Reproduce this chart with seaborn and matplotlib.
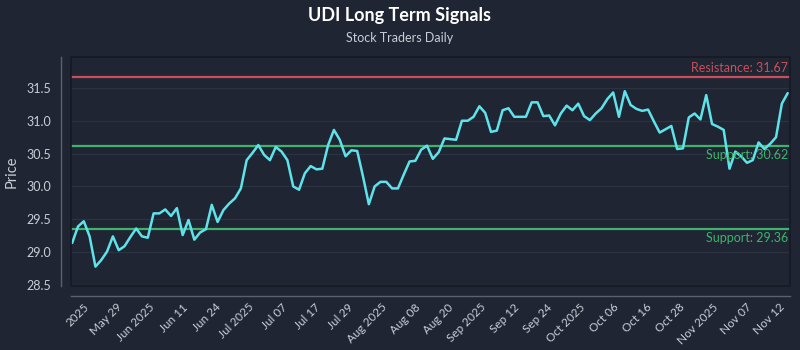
import numpy as np
import pandas as pd
import matplotlib
matplotlib.use("Agg")
import matplotlib.pyplot as plt
from matplotlib.patches import Rectangle
import seaborn as sns

# ---- data ----
prices = [
    29.14, 29.39, 29.47, 29.24, 28.78, 28.88, 29.01, 29.24, 29.03, 29.09,
    29.23, 29.36, 29.24, 29.22, 29.59, 29.59, 29.65, 29.55, 29.67, 29.26,
    29.49, 29.19, 29.30, 29.35, 29.72, 29.46, 29.64, 29.74, 29.82, 29.97,
    30.40, 30.51, 30.63, 30.48, 30.40, 30.60, 30.53, 30.40, 30.00, 29.95,
    30.20, 30.31, 30.26, 30.27, 30.63, 30.86, 30.71, 30.46, 30.55, 30.54,
    30.15, 29.73, 30.00, 30.07, 30.07, 29.97, 29.97, 30.18, 30.38, 30.39,
    30.56, 30.62, 30.42, 30.52, 30.73, 30.72, 30.71, 31.00, 31.00, 31.06,
    31.22, 31.12, 30.83, 30.85, 31.16, 31.19, 31.06, 31.06, 31.06, 31.28,
    31.28, 31.07, 31.08, 30.93, 31.11, 31.23, 31.16, 31.26, 31.07, 31.01,
    31.11, 31.19, 31.33, 31.43, 31.06, 31.45, 31.24, 31.18, 31.15, 31.17,
    30.99, 30.82, 30.87, 30.92, 30.57, 30.58, 31.05, 31.11, 31.02, 31.39,
    30.95, 30.91, 30.86, 30.27, 30.53, 30.46, 30.36, 30.40, 30.67, 30.57,
    30.65, 30.75, 31.26, 31.42,
]
tick_labels = ["2025", "May 29", "Jun 2025", "Jun 11", "Jun 24", "Jul 2025",
               "Jul 07", "Jul 17", "Jul 29", "Aug 2025", "Aug 08", "Aug 20",
               "Sep 2025", "Sep 12", "Sep 24", "Oct 2025", "Oct 06", "Oct 16",
               "Oct 28", "Nov 2025", "Nov 07", "Nov 12"]
resistance = 31.67
supports = [30.62, 29.36]
title = "UDI Long Term Signals"
subtitle = "Stock Traders Daily"

# ---- style ----
BG = "#1f2533"
FRAME = "#151a24"
GRID = "#2b3242"
TXT = "#c9cdd6"
CYAN = "#5fe3ea"
RED = "#c9505a"
GREEN = "#3db36b"

sns.set_theme(style="dark", rc={
    "figure.facecolor": BG, "axes.facecolor": BG,
    "axes.edgecolor": "#555c6b", "grid.color": GRID,
    "text.color": TXT, "axes.labelcolor": TXT,
    "xtick.color": TXT, "ytick.color": TXT,
    "xtick.major.size": 0, "ytick.major.size": 0,
    "xtick.major.pad": 4, "ytick.major.pad": 7,
    "xtick.labelsize": 8.5, "ytick.labelsize": 9,
})
plt.rcParams["font.family"] = ["Lato", "DejaVu Sans"]

df = pd.DataFrame({"idx": np.arange(len(prices)), "price": prices})

fig = plt.figure(figsize=(8, 3.5), dpi=100)
ax = fig.add_axes([71/800, 1 - 286/350, (790 - 71)/800, (286 - 57)/350])

sns.lineplot(data=df, x="idx", y="price", ax=ax, color=CYAN, linewidth=1.8, zorder=3)

ax.axhline(resistance, color=RED, linewidth=1.6, zorder=2)
for s in supports:
    ax.axhline(s, color=GREEN, linewidth=1.6, zorder=2)

n = len(prices)
ax.set_xlim(-0.2, n - 1 + 0.4)
ax.set_ylim(28.485, 31.97)
ax.yaxis.grid(True, color=GRID, linewidth=0.9)
ax.xaxis.grid(False)
ax.set_xlabel("")
ax.set_ylabel("Price", fontsize=10.5, color=TXT, labelpad=6)

xr = ax.get_xlim()[1] - 0.3
ax.text(xr, resistance + 0.04, f"Resistance: {resistance:.2f}", color=RED,
        ha="right", va="bottom", fontsize=9)
for s in supports:
    ax.text(xr, s - 0.05, f"Support: {s:.2f}", color=GREEN,
            ha="right", va="top", fontsize=9)

sns.despine(ax=ax, offset=7.2)
for sp in ("left", "bottom"):
    ax.spines[sp].set_color("#5a6170")
    ax.spines[sp].set_linewidth(1.0)

ax.set_yticks([28.5, 29.0, 29.5, 30.0, 30.5, 31.0, 31.5])
ax.set_yticklabels(["28.5", "29.0", "29.5", "30.0", "30.5", "31.0", "31.5"])
ticks = np.linspace(3.2, n - 1.2, len(tick_labels))
ax.set_xticks(ticks)
ax.set_xticklabels(tick_labels)
for lab in ax.get_xticklabels():
    lab.set_rotation(45)
    lab.set_ha("right")

ax.add_patch(Rectangle((0, 0), 1, 1, transform=ax.transAxes, fill=False,
                       edgecolor=FRAME, linewidth=1.2, clip_on=False, zorder=5))

fig.text(0.5, 1 - 15/350, title, ha="center", va="center", fontsize=13,
         fontweight="bold", color="white")
fig.text(0.5, 1 - 38/350, subtitle, ha="center", va="center", fontsize=9,
         color=TXT)

fig.savefig("out.png", dpi=100, facecolor=BG)
